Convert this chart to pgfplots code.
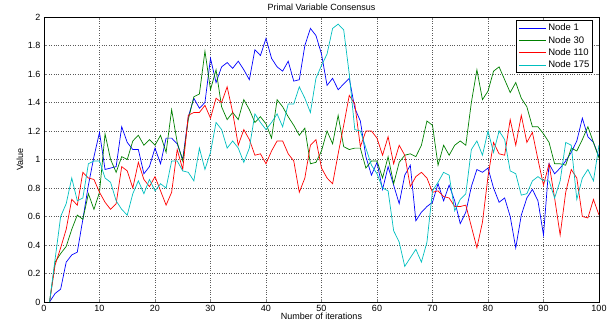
\documentclass[border=0pt]{standalone}
\usepackage{pgfplots}
\pgfplotsset{compat=1.18}
\usepackage{fontspec}
\setmainfont{Liberation Sans}
\definecolor{mblue}{rgb}{0,0,1}
\definecolor{mgreen}{rgb}{0,0.5,0}
\definecolor{mred}{rgb}{1,0,0}
\definecolor{mcyan}{rgb}{0,0.75,0.75}
\begin{document}
\begin{tikzpicture}
\begin{axis}[
  at={(0pt,0pt)}, anchor=south west,
  scale only axis, width=555pt, height=285pt,
  xmin=0, xmax=100, ymin=0, ymax=2,
  xtick={0,10,...,100}, ytick={0,0.2,...,2.01},
  /pgf/number format/assume math mode=true,
  /pgf/number format/fixed,
  tick label style={font=\fontsize{9}{10}\selectfont},
  label style={font=\fontsize{9}{10}\selectfont},
  title style={font=\fontsize{9}{10}\selectfont, yshift=-3pt},
  title={Primal Variable Consensus},
  xlabel={Number of iterations}, ylabel={Value},
  xlabel style={yshift=6pt}, ylabel style={yshift=-2pt},
  grid=major, major grid style={dotted, gray!70!black, line width=0.5pt},
  tick align=inside, major tick length=3pt,
  axis line style={line width=0.6pt},
  legend style={at={(0.99,0.99)}, anchor=north east, font=\fontsize{9.5}{11}\selectfont, draw=black, line width=1pt, inner sep=1.5pt, row sep=0pt},
  legend cell align=left,
  legend image post style={line width=0.8pt},
  legend image code/.code={\draw[#1] (0cm,0cm) -- (0.95cm,0cm);},
  every axis plot/.append style={line width=0.7pt},
]
\addplot[mblue] coordinates {
(1,0)(2,0.06)(3,0.09)(4,0.28)(5,0.33)(6,0.35)(7,0.58)(8,0.82)(9,1.02)(10,1.19)
(11,0.93)(12,0.94)(13,0.95)(14,1.23)(15,1.12)(16,1.07)(17,1.07)(18,0.90)(19,0.95)(20,1.08)
(21,0.97)(22,1.15)(23,1.15)(24,1.11)(25,1.00)(26,1.30)(27,1.43)(28,1.36)(29,1.40)(30,1.71)
(31,1.54)(32,1.65)(33,1.68)(34,1.64)(35,1.69)(36,1.63)(37,1.56)(38,1.77)(39,1.73)(40,1.85)
(41,1.71)(42,1.65)(43,1.62)(44,1.69)(45,1.55)(46,1.56)(47,1.80)(48,1.92)(49,1.87)(50,1.74)
(51,1.52)(52,1.57)(53,1.49)(54,1.53)(55,1.57)(56,1.36)(57,1.27)(58,1.02)(59,0.89)(60,0.98)
(61,0.79)(62,0.95)(63,0.82)(64,0.69)(65,0.89)(66,0.96)(67,0.57)(68,0.63)(69,0.67)(70,0.70)
(71,0.83)(72,0.71)(73,0.82)(74,0.71)(75,0.55)(76,0.63)(77,0.81)(78,0.93)(79,0.91)(80,0.94)
(81,0.80)(82,0.70)(83,0.73)(84,0.60)(85,0.38)(86,0.61)(87,0.73)(88,0.79)(89,0.71)(90,0.47)
(91,0.97)(92,0.90)(93,0.94)(94,0.99)(95,1.05)(96,1.13)(97,1.29)(98,1.16)(99,1.12)(100,1.02)
};
\addlegendentry{Node 1}
\addplot[mgreen] coordinates {
(1,0)(2,0.28)(3,0.34)(4,0.39)(5,0.51)(6,0.61)(7,0.58)(8,0.76)(9,0.65)(10,0.77)
(11,1.18)(12,1.00)(13,0.91)(14,1.02)(15,1.00)(16,1.13)(17,1.17)(18,1.10)(19,1.14)(20,1.10)
(21,1.17)(22,1.05)(23,1.35)(24,1.12)(25,0.99)(26,1.28)(27,1.44)(28,1.46)(29,1.76)(30,1.49)
(31,1.63)(32,1.37)(33,1.28)(34,1.33)(35,1.28)(36,1.42)(37,1.35)(38,1.26)(39,1.30)(40,1.25)
(41,1.15)(42,1.42)(43,1.37)(44,1.30)(45,1.24)(46,1.17)(47,1.22)(48,0.97)(49,0.98)(50,1.06)
(51,1.20)(52,1.11)(53,1.31)(54,1.09)(55,1.07)(56,1.08)(57,1.08)(58,0.94)(59,0.99)(60,0.99)
(61,0.87)(62,1.02)(63,0.83)(64,0.98)(65,1.03)(66,1.04)(67,1.02)(68,1.10)(69,1.27)(70,1.24)
(71,0.96)(72,1.10)(73,1.03)(74,1.10)(75,1.13)(76,1.10)(77,1.40)(78,1.63)(79,1.42)(80,1.48)
(81,1.62)(82,1.65)(83,1.56)(84,1.47)(85,1.54)(86,1.43)(87,1.37)(88,1.23)(89,1.23)(90,1.18)
(91,1.12)(92,0.97)(93,0.97)(94,0.96)(95,1.08)(96,1.06)(97,1.14)(98,1.23)(99,1.12)(100,1.01)
};
\addlegendentry{Node 30}
\addplot[mred] coordinates {
(1,0)(2,0.26)(3,0.38)(4,0.51)(5,0.72)(6,0.68)(7,0.91)(8,0.87)(9,0.86)(10,0.77)
(11,0.70)(12,0.65)(13,0.69)(14,0.95)(15,0.92)(16,0.80)(17,0.98)(18,0.86)(19,0.81)(20,0.88)
(21,0.78)(22,0.68)(23,0.77)(24,1.07)(25,0.93)(26,1.31)(27,1.33)(28,1.33)(29,1.38)(30,1.29)
(31,1.43)(32,1.40)(33,1.51)(34,1.33)(35,1.10)(36,1.21)(37,1.14)(38,1.03)(39,1.04)(40,0.97)
(41,1.06)(42,1.13)(43,1.13)(44,1.04)(45,0.99)(46,0.77)(47,0.87)(48,1.10)(49,1.14)(50,0.94)
(51,0.87)(52,0.83)(53,1.04)(54,1.24)(55,1.45)(56,1.39)(57,1.09)(58,1.20)(59,1.20)(60,1.15)
(61,1.03)(62,1.16)(63,0.97)(64,1.10)(65,1.03)(66,0.81)(67,0.88)(68,0.91)(69,0.87)(70,0.77)
(71,0.78)(72,0.74)(73,0.73)(74,0.67)(75,0.67)(76,0.68)(77,0.53)(78,0.38)(79,0.56)(80,0.88)
(81,1.12)(82,1.04)(83,1.03)(84,1.28)(85,1.10)(86,1.31)(87,1.12)(88,1.19)(89,1.00)(90,0.82)
(91,0.97)(92,0.73)(93,0.47)(94,0.77)(95,0.93)(96,0.87)(97,0.60)(98,0.59)(99,0.72)(100,0.61)
};
\addlegendentry{Node 110}
\addplot[mcyan] coordinates {
(1,0)(2,0.30)(3,0.60)(4,0.69)(5,0.87)(6,0.71)(7,0.73)(8,0.97)(9,0.99)(10,0.99)
(11,0.87)(12,0.84)(13,0.71)(14,0.65)(15,0.61)(16,0.76)(17,0.85)(18,0.76)(19,0.86)(20,0.78)
(21,0.83)(22,0.80)(23,0.99)(24,0.99)(25,0.92)(26,0.91)(27,0.85)(28,1.08)(29,0.93)(30,1.05)
(31,1.26)(32,1.21)(33,1.08)(34,1.13)(35,1.08)(36,0.98)(37,1.08)(38,1.32)(39,1.26)(40,1.21)
(41,1.26)(42,1.32)(43,1.23)(44,1.39)(45,1.39)(46,1.51)(47,1.43)(48,1.33)(49,1.57)(50,1.66)
(51,1.74)(52,1.92)(53,1.95)(54,1.91)(55,1.60)(56,1.21)(57,1.20)(58,1.08)(59,0.96)(60,0.90)
(61,0.80)(62,0.78)(63,0.50)(64,0.42)(65,0.25)(66,0.31)(67,0.37)(68,0.28)(69,0.42)(70,0.78)
(71,0.84)(72,0.91)(73,0.89)(74,0.64)(75,0.72)(76,0.76)(77,1.07)(78,1.13)(79,1.03)(80,1.20)
(81,1.05)(82,1.20)(83,1.14)(84,0.92)(85,0.90)(86,0.75)(87,0.76)(88,0.85)(89,0.88)(90,0.85)
(91,0.85)(92,0.73)(93,0.85)(94,1.12)(95,1.10)(96,0.72)(97,0.87)(98,0.93)(99,0.85)(100,1.10)
};
\addlegendentry{Node 175}
\end{axis}
\path (-44pt,-31pt) rectangle (572pt,302pt);
\end{tikzpicture}
\end{document}
